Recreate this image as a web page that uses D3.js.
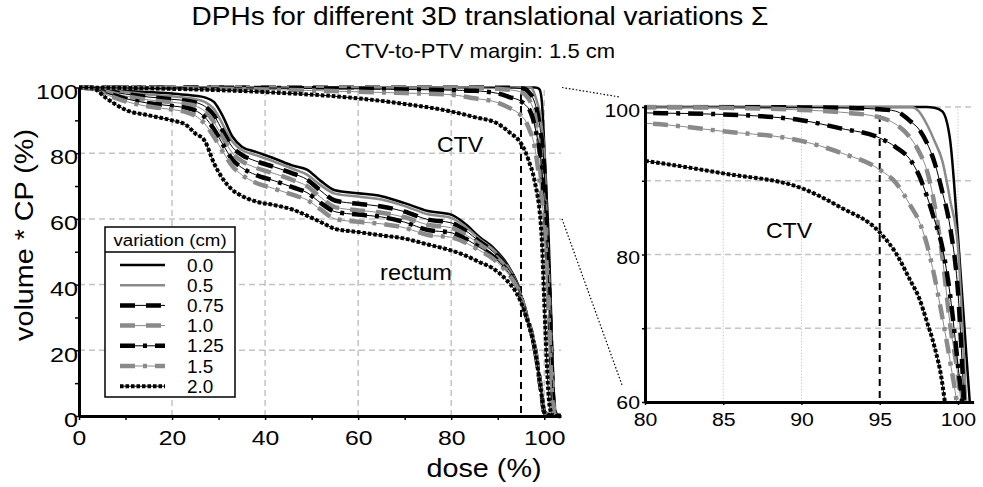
<!DOCTYPE html>
<html><head><meta charset="utf-8">
<script src="https://cdn.jsdelivr.net/npm/d3@7"></script>
<style>
body{margin:0;background:#fff}
svg{display:block}
text{font-family:"Liberation Sans",Arial,Helvetica,sans-serif;fill:#000}
</style>
</head><body>
<svg id="c" width="983" height="487"></svg>
<script>
// ---------------- data ----------------
const variations = ["0.0", "0.5", "0.75", "1.0", "1.25", "1.5", "2.0"];

// rectum DPH (dose %, volume*CP %)
const rectumDose = [0, 3, 6, 10, 15, 20, 23, 25, 27, 29, 31, 33, 35, 38, 42, 46, 49, 52, 55, 60, 65, 70, 75, 80, 83, 86, 89, 92, 94, 96, 98, 99.3, 100, 101, 103.5];
const rectum00 = [100, 100, 99.5, 99.0, 98.6, 98.2, 97.8, 97.5, 97.0, 95.6, 91.0, 85.0, 82.0, 80.4, 78.4, 76.2, 75.0, 71.5, 68.7, 67.8, 66.9, 64.8, 62.4, 61.3, 58.5, 54.6, 51.3, 46.3, 41.0, 31.5, 20.5, 8.0, 1.2, 0.3, 0];
const rectum05 = [100, 100, 99.3, 98.6, 97.9, 97.3, 96.9, 96.5, 95.6, 93.5, 88.5, 83.5, 81.0, 79.4, 77.4, 75.2, 73.5, 70.2, 67.7, 66.8, 65.9, 63.9, 61.4, 60.3, 57.7, 54.0, 50.7, 45.8, 40.7, 31.5, 20.5, 8.0, 1.2, 0.3, 0];
const rectum075 = [100, 99.9, 99.0, 98.0, 97.1, 96.4, 96.0, 95.5, 94.3, 91.5, 86.5, 81.8, 79.5, 77.6, 75.8, 73.8, 72.0, 68.5, 65.6, 64.6, 63.8, 62.2, 59.8, 58.8, 56.5, 53.2, 50.0, 45.3, 40.4, 31.4, 20.5, 8.0, 1.2, 0.3, 0];
const rectum10 = [100, 99.8, 98.7, 97.4, 96.2, 95.5, 95.0, 94.4, 92.8, 89.5, 84.5, 80.0, 77.6, 75.6, 73.8, 71.8, 70.0, 66.5, 63.6, 62.6, 61.9, 60.5, 58.2, 57.3, 55.3, 52.4, 49.3, 44.8, 40.1, 31.3, 20.4, 8.0, 1.2, 0.3, 0];
const rectum125 = [100, 99.7, 98.3, 96.6, 95.2, 94.4, 93.8, 93.0, 91.0, 87.3, 82.5, 78.0, 75.6, 73.4, 71.6, 69.6, 68.0, 64.8, 62.2, 61.3, 60.6, 59.0, 56.6, 55.8, 54.0, 51.4, 48.6, 44.2, 39.8, 31.2, 20.3, 8.0, 1.2, 0.3, 0];
const rectum15 = [100, 99.5, 97.8, 95.8, 94.2, 93.3, 92.5, 91.4, 89.0, 85.0, 80.3, 76.0, 73.4, 71.0, 69.2, 67.3, 65.8, 62.8, 60.0, 59.1, 58.5, 57.3, 55.1, 54.4, 52.8, 50.5, 47.9, 43.7, 39.5, 31.1, 20.2, 8.0, 1.2, 0.3, 0];
const rectum20 = [100, 99.7, 96.6, 93.2, 91.5, 90.0, 88.6, 86.0, 83.8, 77.0, 72.0, 68.8, 67.0, 65.3, 64.2, 62.8, 61.0, 59.0, 57.0, 56.0, 55.0, 54.0, 52.2, 50.4, 48.9, 46.9, 44.9, 41.2, 37.5, 30.8, 20.0, 7.8, 1.2, 0.3, 0];

// CTV DPH
const ctvDose = [0, 20, 40, 60, 70, 80, 85, 90, 92.5, 95, 96, 97, 97.5, 98, 98.5, 99, 99.5, 100, 100.5, 101, 101.5, 102, 102.5, 103.5];
const ctv00 = [100, 100, 100, 100, 100, 100, 100, 100, 100, 100, 100, 100, 100, 100, 99.9, 99.4, 95.5, 82.5, 67.5, 52, 30, 8, 1, 0];
const ctv05 = [100, 100, 100, 100, 100, 100, 100, 100, 100, 100, 100, 100, 99.4, 97.7, 95.4, 92.7, 87.4, 81, 61, 42, 22, 5, 0.5, 0];
const ctv075 = [100, 100, 100, 100, 100, 100, 100, 99.95, 99.9, 99.7, 99.45, 98.0, 97.0, 95.2, 92.5, 88.5, 83.7, 75, 56, 40, 20, 4, 0.3, 0];
const ctv10 = [100, 100, 100, 100, 100, 100, 99.9, 99.6, 99.3, 98.6, 97.7, 95.7, 94.0, 91.5, 86.8, 79.7, 70.5, 63.5, 53, 36, 17, 3, 0.2, 0];
const ctv125 = [100, 99.95, 99.85, 99.6, 99.4, 99.2, 99.0, 98.2, 97.1, 95.8, 94.6, 92.7, 90.8, 88.0, 84.7, 81.0, 74.5, 65, 55, 38, 18, 3, 0.2, 0];
const ctv15 = [100, 99.8, 99.4, 98.7, 98.3, 97.8, 96.7, 95.4, 93.8, 91.5, 89.8, 86.5, 84.6, 81.5, 77.0, 71.5, 65.5, 58.5, 46, 29, 11, 1.5, 0, 0];
const ctv20 = [100, 99.6, 98.6, 96.7, 95.0, 92.7, 91.0, 89.0, 86.4, 83.0, 80.3, 76.3, 74.2, 71.0, 67.5, 62.5, 53, 35, 18, 5, 1, 0, 0, 0];

const rectumSeries = [rectum00, rectum05, rectum075, rectum10, rectum125, rectum15, rectum20];
const ctvSeries = [ctv00, ctv05, ctv075, ctv10, ctv125, ctv15, ctv20];

const leftXTicks = [0, 10, 20, 30, 40, 50, 60, 70, 80, 90, 100];
const leftYTicks = [0, 10, 20, 30, 40, 50, 60, 70, 80, 90, 100];
const rightXTicks = [80, 85, 90, 95, 100];
const rightYTicks = [60, 70, 80, 90, 100];
const referenceDose = 95;

const title = "DPHs for different 3D translational variations \u03A3";
const subtitle = "CTV-to-PTV margin: 1.5 cm";

// ---------------- styles ----------------
const GRAY = "#8a8a8a";
const styles = [
  [{c: "#000", w: 2.5}],
  [{c: GRAY, w: 2.5}],
  [{c: "#000", w: 1}, {c: "#000", w: 4.5, d: "15,11"}],
  [{c: GRAY, w: 1}, {c: GRAY, w: 4.5, d: "15,11"}],
  [{c: "#000", w: 1}, {c: "#000", w: 4.5, d: "15,8,4,8"}],
  [{c: GRAY, w: 1}, {c: GRAY, w: 4.5, d: "15,8,4,8"}],
  [{c: "#000", w: 1}, {c: "#000", w: 4, d: "3.5,2"}]
];

const svg = d3.select("#c");

function txt(parent, x, y, s, size, anchor, sx, rot) {
  let tr = `translate(${x},${y})`;
  if (rot) tr += ` rotate(${rot})`;
  tr += ` scale(${sx},1)`;
  return parent.append("text").attr("transform", tr)
    .attr("font-size", size + "px").attr("text-anchor", anchor || "start").text(s);
}

function drawSeries(g, pts, style, line) {
  style.forEach(s => {
    g.append("path").datum(pts).attr("d", line)
      .attr("fill", "none").attr("stroke", s.c).attr("stroke-width", s.w)
      .attr("stroke-dasharray", s.d || null).attr("stroke-linejoin", "round");
  });
}

// ---------------- scales ----------------
const xL = d3.scaleLinear().domain([0, 103.6]).range([79, 561]);
const yL = d3.scaleLinear().domain([0, 100]).range([416, 87.5]);
const xR = d3.scaleLinear().domain([80, 101]).range([645, 973.6]);
const yR = d3.scaleLinear().domain([60, 100.3]).range([402, 104.8]);

const GRID = "#c4c4c4";

// ---------------- left panel ----------------
const gL = svg.append("g");
gL.selectAll(".vg").data([20, 40, 60, 80, 100]).enter().append("line")
  .attr("x1", d => xL(d)).attr("x2", d => xL(d)).attr("y1", yL(0)).attr("y2", yL(100))
  .attr("stroke", GRID).attr("stroke-width", 1.5).attr("stroke-dasharray", "6,4");
gL.selectAll(".hg").data([20, 40, 60, 80]).enter().append("line")
  .attr("x1", xL(0)).attr("x2", xL(103.6)).attr("y1", d => yL(d)).attr("y2", d => yL(d))
  .attr("stroke", GRID).attr("stroke-width", 1.5).attr("stroke-dasharray", "6,4");
gL.append("line").attr("x1", xL(referenceDose)).attr("x2", xL(referenceDose))
  .attr("y1", yL(98)).attr("y2", yL(0))
  .attr("stroke", "#000").attr("stroke-width", 2).attr("stroke-dasharray", "7,5");

const lineL = d3.line().x(d => xL(d[0])).y(d => yL(d[1])).curve(d3.curveMonotoneX);
rectumSeries.forEach((s, i) => drawSeries(gL, rectumDose.map((d, j) => [d, s[j]]), styles[i], lineL));
ctvSeries.forEach((s, i) => drawSeries(gL, ctvDose.map((d, j) => [d, s[j]]), styles[i], lineL));

const axL = gL.append("g").attr("transform", `translate(0,${yL(0)})`)
  .call(d3.axisBottom(xL).tickValues(leftXTicks).tickSize(4).tickSizeOuter(0)
    .tickFormat(d => d % 20 === 0 ? d : ""));
const ayL = gL.append("g").attr("transform", `translate(${xL(0)},0)`)
  .call(d3.axisLeft(yL).tickValues(leftYTicks).tickSize(4).tickSizeOuter(0)
    .tickFormat(d => d % 20 === 0 ? d : ""));
[axL, ayL].forEach(a => {
  a.select(".domain").attr("stroke-width", 3).attr("stroke", "#000");
  a.selectAll(".tick line").attr("stroke-width", 1.5);
  a.selectAll("text").attr("font-size", "21px").attr("font-family", null);
});
axL.selectAll("text").attr("y", 14).attr("transform", "scale(1.18,1)");
ayL.selectAll("text").attr("x", null).attr("transform", "translate(-1,4) scale(1.2,1)");

txt(gL, 460, 152, "CTV", 22, "middle", 1.05);
txt(gL, 416, 280, "rectum", 22, "middle", 1.07);

// legend
const lg = gL.append("g");
lg.append("rect").attr("x", 105).attr("y", 227).attr("width", 130).attr("height", 170)
  .attr("fill", "#fff").attr("stroke", "#000").attr("stroke-width", 1.5);
lg.append("line").attr("x1", 105).attr("x2", 235).attr("y1", 252).attr("y2", 252)
  .attr("stroke", "#000").attr("stroke-width", 1.5);
txt(lg, 170, 246, "variation (cm)", 17, "middle", 1.1);
variations.forEach((v, i) => {
  const cy = 265 + i * 20.2;
  drawSeries(lg, [[120, cy], [165, cy]], styles[i], d3.line());
  txt(lg, 187, cy + 6.5, v, 17.5, "start", 1.08);
});

// ---------------- right panel ----------------
const gR = svg.append("g");
svg.append("defs").append("clipPath").attr("id", "clipR").append("rect")
  .attr("x", xR(80)).attr("y", yR(100.3)).attr("width", xR(101) - xR(80)).attr("height", yR(60) - yR(100.3));
gR.selectAll(".vg").data([85, 90, 100]).enter().append("line")
  .attr("x1", d => xR(d)).attr("x2", d => xR(d)).attr("y1", yR(60)).attr("y2", yR(100.3))
  .attr("stroke", "#cfcfcf").attr("stroke-width", 1).attr("stroke-dasharray", "1.5,1.5");
gR.selectAll(".hg").data([70, 80, 90, 100]).enter().append("line")
  .attr("x1", xR(80)).attr("x2", xR(101)).attr("y1", d => yR(d)).attr("y2", d => yR(d))
  .attr("stroke", GRID).attr("stroke-width", 1.5).attr("stroke-dasharray", "6,4");
gR.append("line").attr("x1", xR(referenceDose)).attr("x2", xR(referenceDose))
  .attr("y1", yR(98.9)).attr("y2", yR(60))
  .attr("stroke", "#000").attr("stroke-width", 2).attr("stroke-dasharray", "7,5");

const gRc = gR.append("g").attr("clip-path", "url(#clipR)");
const lineR = d3.line().x(d => xR(d[0])).y(d => yR(d[1])).curve(d3.curveMonotoneX);
ctvSeries.forEach((s, i) => drawSeries(gRc, ctvDose.map((d, j) => [d, s[j]]), styles[i], lineR));

const axR = gR.append("g").attr("transform", `translate(0,${yR(60)})`)
  .call(d3.axisBottom(xR).tickValues(rightXTicks).tickSize(3).tickSizeOuter(0));
const ayR = gR.append("g").attr("transform", `translate(${xR(80)},0)`)
  .call(d3.axisLeft(yR).tickValues(rightYTicks).tickSize(3).tickSizeOuter(0)
    .tickFormat(d => d % 20 === 0 ? d : ""));
[axR, ayR].forEach(a => {
  a.select(".domain").attr("stroke-width", 3).attr("stroke", "#000");
  a.selectAll(".tick line").attr("stroke-width", 1.5);
  a.selectAll("text").attr("font-size", "19px").attr("font-family", null);
});
axR.selectAll("text").attr("y", 11).attr("transform", "scale(1.12,1)");
ayR.selectAll("text").attr("x", null).attr("transform", d => `translate(-5,${d === 60 ? 0 : 3}) scale(1.12,1)`);
txt(gR, 789, 238, "CTV", 22, "middle", 1.05);

// connectors
const conn = [[100, -25, -10], [60, -23, -17]];
conn.forEach(c => {
  svg.append("line").attr("x1", xL(103.6) + 1).attr("y1", yL(c[0]))
    .attr("x2", xR(80) + c[1]).attr("y2", yR(c[0]) + c[2])
    .attr("stroke", "#000").attr("stroke-width", 1.2).attr("stroke-dasharray", "1.5,2");
});

// ---------------- titles ----------------
txt(svg, 480, 25, title, 25, "middle", 1.12);
txt(svg, 480, 58, subtitle, 20, "middle", 1.1);
txt(svg, 484, 477, "dose (%)", 25, "middle", 1.15);
txt(svg, 33, 235, "volume * CP (%)", 25, "middle", 1.15, -90);
</script>
</body></html>
